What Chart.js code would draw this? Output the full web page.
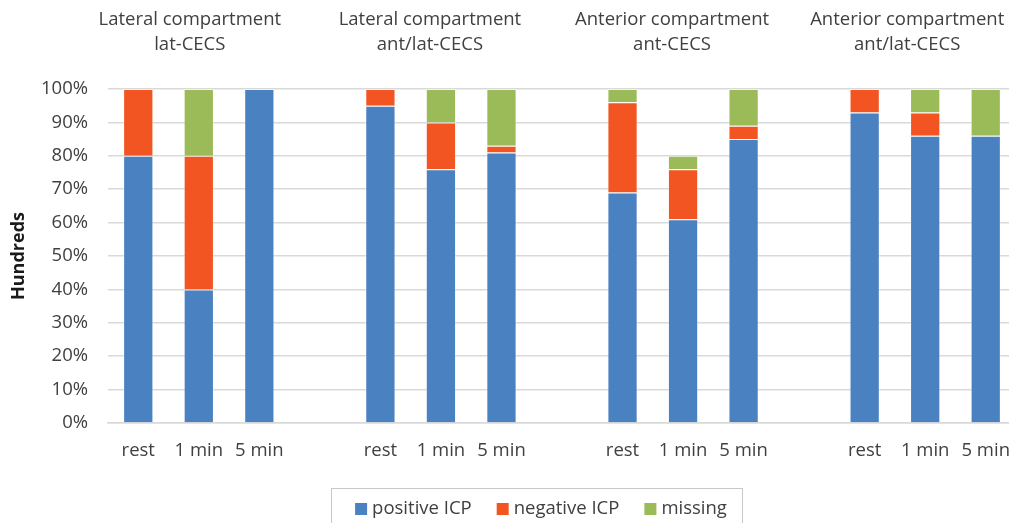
<!DOCTYPE html>
<html>
<head>
<meta charset="utf-8">
<script src="https://cdn.jsdelivr.net/npm/chart.js@4"></script>
<style>
  html, body { margin: 0; padding: 0; overflow: hidden; background: #fff; }
  canvas { display: block; }
</style>
</head>
<body>
<canvas id="chart" width="1016" height="523"></canvas>
<script>
// categories (empty slot between the groups)
const labels = ['rest', '1 min', '5 min', '', 'rest', '1 min', '5 min', '', 'rest', '1 min', '5 min', '', 'rest', '1 min', '5 min'];
const groupTitles = [
    ['Lateral compartment', 'lat-CECS'],
    ['Lateral compartment', 'ant/lat-CECS'],
    ['Anterior compartment', 'ant-CECS'],
    ['Anterior compartment', 'ant/lat-CECS']
];
const positiveICP = [80, 40, 100, null, 95, 76, 81, null, 69, 61, 85, null, 93, 86, 86];
const negativeICP = [20, 40, 0, null, 5, 14, 2, null, 27, 15, 4, null, 7, 7, 0];
const missing = [0, 20, 0, null, 0, 10, 17, null, 4, 4, 11, null, 0, 7, 14];
const yTicks = [0, 10, 20, 30, 40, 50, 60, 70, 80, 90, 100];

const FONT = "'Open Sans', sans-serif";
const textColor = '#404040';

// group titles above each block of three bars
const titleShift = [-9, -11, -11, -18];
const groupTitlePlugin = {
    id: 'groupTitles',
    afterDraw(chart) {
        const ctx = chart.ctx;
        const x = chart.scales.x;
        ctx.save();
        ctx.fillStyle = textColor;
        ctx.font = '18.5px ' + FONT;
        ctx.textAlign = 'center';
        ctx.textBaseline = 'middle';
        groupTitles.forEach((t, g) => {
            const cx = x.getPixelForValue(g * 4 + 1) + titleShift[g];
            ctx.fillText(t[0], cx, 20);
            ctx.fillText(t[1], cx, 45);
        });
        ctx.restore();
    }
};

// legend in a frame, below the axis
const legendPlugin = {
    id: 'boxLegend',
    afterDraw(chart) {
        const ctx = chart.ctx;
        const sets = chart.data.datasets;
        ctx.save();
        ctx.strokeStyle = '#c8c8c8';
        ctx.lineWidth = 1;
        ctx.strokeRect(331.5, 488.5, 411, 60);
        ctx.font = '18.5px ' + FONT;
        ctx.textBaseline = 'middle';
        const box = 12, gapIn = 5, gapOut = 25;
        let total = 0;
        sets.forEach((d, i) => {
            total += box + gapIn + ctx.measureText(d.label).width + (i < sets.length - 1 ? gapOut : 0);
        });
        let x = 541 - total / 2;
        const y = 509;
        sets.forEach(d => {
            ctx.fillStyle = d.backgroundColor;
            ctx.fillRect(x, y - box / 2, box, box);
            x += box + gapIn;
            ctx.fillStyle = textColor;
            ctx.fillText(d.label, x, y);
            x += ctx.measureText(d.label).width + gapOut;
        });
        ctx.restore();
    }
};

const ctx = document.getElementById('chart').getContext('2d');
new Chart(ctx, {
    type: 'bar',
    data: {
        labels: labels,
        datasets: [
            { label: 'positive ICP', data: positiveICP, backgroundColor: '#4a81c0', borderColor: 'rgba(255,255,255,0.35)', borderWidth: 1 },
            { label: 'negative ICP', data: negativeICP, backgroundColor: '#f25522', borderColor: 'rgba(255,255,255,0.35)', borderWidth: 1 },
            { label: 'missing', data: missing, backgroundColor: '#9bbb59', borderColor: 'rgba(255,255,255,0.35)', borderWidth: 1 }
        ]
    },
    options: {
        responsive: false,
        animation: false,
        layout: { padding: { top: 89, right: 0, left: 0, bottom: 60 } },
        datasets: { bar: { categoryPercentage: 1.0, barPercentage: 0.5 } },
        scales: {
            x: {
                stacked: true,
                grid: { display: false, drawTicks: true, tickLength: 17 },
                border: { display: true, color: '#d9d9d9', width: 1.5 },
                afterFit(axis) { axis.height = 40; },
                ticks: { color: textColor, font: { family: FONT, size: 18.5 }, padding: 0, maxRotation: 0, autoSkip: false }
            },
            y: {
                stacked: true,
                min: 0,
                max: 100,
                afterBuildTicks(axis) { axis.ticks = yTicks.map(v => ({ value: v })); },
                afterFit(axis) { axis.width = 108; },
                grid: { color: '#d9d9d9', lineWidth: 1.5, drawTicks: false },
                border: { display: false },
                ticks: { color: textColor, font: { family: FONT, size: 18.5 }, padding: 20, callback: v => v + '%' },
                title: { display: true, text: 'Hundreds', color: '#1a1a1a', font: { family: FONT, size: 18, weight: 'bold' }, padding: { top: 8, bottom: 0 } }
            }
        },
        plugins: {
            legend: { display: false },
            tooltip: { enabled: false }
        }
    },
    plugins: [groupTitlePlugin, legendPlugin]
});
</script>
</body>
</html>
